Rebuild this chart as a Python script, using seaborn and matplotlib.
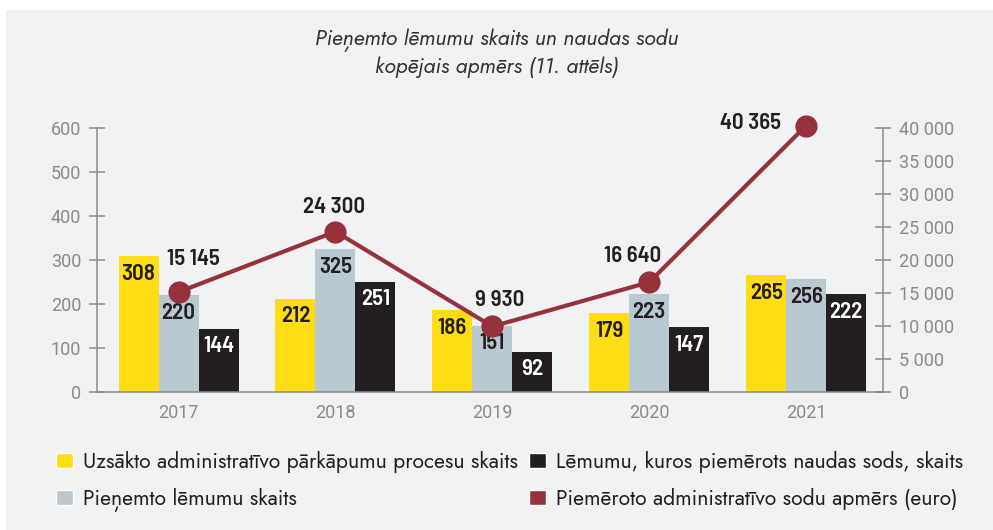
import numpy as np
import pandas as pd
import matplotlib
matplotlib.use('Agg')
import matplotlib.pyplot as plt
from matplotlib.patches import Patch, Rectangle
import seaborn as sns

# chart data
years = ['2017', '2018', '2019', '2020', '2021']
started_cases = [308, 212, 186, 179, 265]
decisions = [220, 325, 151, 223, 256]
fine_decisions = [144, 251, 92, 147, 222]
fine_totals = [15145, 24300, 9930, 16640, 40365]

series_names = ['Uzsākto administratīvo pārkāpumu procesu skaits',
                'Pieņemto lēmumu skaits',
                'Lēmumu, kuros piemērots naudas sods, skaits']
line_name = 'Piemēroto administratīvo sodu apmērs (euro)'
title = 'Pieņemto lēmumu skaits un naudas sodu\nkopējais apmērs (11. attēls)'

left_ticks = [0, 100, 200, 300, 400, 500, 600]
right_ticks = [0, 5000, 10000, 15000, 20000, 25000, 30000, 35000, 40000]

bar_colors = ['#FFDD15', '#B8C9D2', '#231F20']
label_colors = ['#231F20', '#231F20', 'white']
line_color = '#98323A'
axis_gray = '#8A8A8A'
text_dark = '#231F20'

sns.set_style('white')
label_font = ['Barlow Semi Condensed', 'Roboto Condensed', 'DejaVu Sans']
tick_font = ['Roboto', 'DejaVu Sans']
plain_font = ['Jost', 'Lato', 'DejaVu Sans']

df = pd.DataFrame({
    'year': years * 3,
    'series': [series_names[0]] * 5 + [series_names[1]] * 5 + [series_names[2]] * 5,
    'value': started_cases + decisions + fine_decisions,
})

fig = plt.figure(figsize=(9.93, 5.30), dpi=100, facecolor='white')
fig.patches.append(Rectangle((6 / 993, 0), 1, 1 - 10 / 530, transform=fig.transFigure,
                             facecolor='#F1F2F4', edgecolor='none', zorder=-10))

ax = fig.add_axes([97 / 993, 138 / 530, (883 - 97) / 993, (392 - 128) / 530])
ax.set_facecolor('none')

sns.barplot(data=df, x='year', y='value', hue='series', hue_order=series_names,
            palette=bar_colors, saturation=1, width=0.765, legend=False,
            linewidth=0, edgecolor='none', ax=ax)

# value labels inside the top of each bar
for container, lc in zip(ax.containers, label_colors):
    for patch, val in zip(container.patches, container.datavalues):
        ax.annotate(f'{int(val)}', (patch.get_x() + patch.get_width() / 2, patch.get_height()),
                    xytext=(0, -5.5), textcoords='offset points', ha='center', va='top',
                    fontsize=16.5, fontweight='semibold', family=label_font, color=lc)

ax.set_xlim(-0.52, 4.49)
ax.set_ylim(0, 600)
ax.set_yticks(left_ticks)
ax.set_xlabel('')
ax.set_ylabel('')

ax2 = ax.twinx()
ax2.set_facecolor('none')
xpos = np.arange(len(years))
sns.lineplot(x=xpos, y=fine_totals, color=line_color, linewidth=3, marker='o',
             markersize=16, markeredgewidth=0, ax=ax2, clip_on=False, zorder=5)
ax2.set_ylim(0, 40000)
ax2.set_yticks(right_ticks)
ax2.set_yticklabels([f'{t:,}'.replace(',', ' ') for t in right_ticks])

# fine totals labels (offsets in points)
offsets = [(11, 24), (-1, 18), (5, 19), (-12, 19), (-18, 2)]
aligns = ['center', 'center', 'center', 'center', 'right']
for x, v, off, ha in zip(xpos, fine_totals, offsets, aligns):
    ax2.annotate(f'{v:,}'.replace(',', ' '), (x, v), xytext=off, textcoords='offset points',
                 ha=ha, va='center', fontsize=16.5, fontweight='semibold', family=label_font,
                 color=text_dark, annotation_clip=False)

# axes styling
for a in (ax, ax2):
    for s in a.spines.values():
        s.set_visible(False)
    a.tick_params(axis='y', direction='inout', length=11, width=1.1, color=axis_gray,
                  labelcolor=axis_gray, labelsize=13, pad=6)
for lbl in ax.get_yticklabels() + ax2.get_yticklabels() + ax.get_xticklabels():
    lbl.set_family(tick_font)
ax.spines['left'].set_visible(True)
ax.spines['bottom'].set_visible(True)
ax2.spines['right'].set_visible(True)
for s in (ax.spines['left'], ax.spines['bottom'], ax2.spines['right']):
    s.set_color(axis_gray)
    s.set_linewidth(1.1)
ax.tick_params(axis='x', length=0, labelcolor=axis_gray, labelsize=13, pad=9)

fig.text(0.5, 1 - 53 / 530, title, ha='center', va='center', fontsize=15.5, style='italic',
         family=plain_font, color='#333333', linespacing=1.3)

handles = [Patch(facecolor=bar_colors[0]), Patch(facecolor=bar_colors[1]),
           Patch(facecolor=bar_colors[2]), Patch(facecolor=line_color)]
labels = [series_names[0], series_names[1], series_names[2], line_name]
leg = fig.legend(handles, labels, ncol=2, loc='upper left', bbox_to_anchor=(56 / 993, 1 - 451 / 530),
                 frameon=False, prop={'family': plain_font, 'size': 15.2},
                 handlelength=0.8, handleheight=0.76, handletextpad=0.47,
                 columnspacing=0.55, labelspacing=0.7, borderpad=0, borderaxespad=0)
for t in leg.get_texts():
    t.set_color(text_dark)

fig.savefig('out.png', dpi=100, facecolor=fig.get_facecolor())
